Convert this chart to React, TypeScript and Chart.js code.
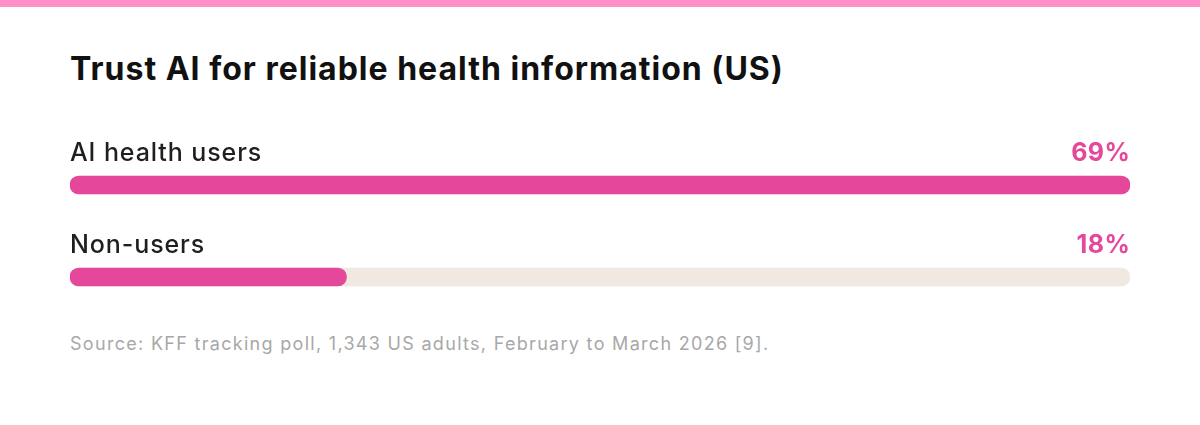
import React, { FC, useEffect, useRef } from "react";
import Chart from "chart.js/auto";

const categories = ["AI health users", "Non-users"];
const values = [69, 18];
const valueLabels = ["69%", "18%"];

const PINK = "#e5489a";
const TRACK = "#f0e8e1";
const FONT = "Inter, 'Noto Sans', sans-serif";

const App: FC = () => {
  const chartRef = useRef<HTMLCanvasElement>(null);

  useEffect(() => {
    document.body.style.margin = "0";
    if (!chartRef.current) return;
    const ctx = chartRef.current.getContext("2d");
    if (!ctx) return;
    const scaleMax = Math.max(...values);

    // draws the row label and the value above each bar
    const rowLabels = {
      id: "rowLabels",
      afterDatasetsDraw(chart: any) {
        const c = chart.ctx;
        const area = chart.chartArea;
        const meta = chart.getDatasetMeta(1);
        c.save();
        c.textBaseline = "middle";
        meta.data.forEach((bar: any, i: number) => {
          const y = bar.y - 32;
          c.fillStyle = "#1f1f1f";
          c.textAlign = "left";
          c.font = `500 25px ${FONT}`;
          c.letterSpacing = "0.9px";
          c.fillText(categories[i], area.left, y);
          c.fillStyle = PINK;
          c.textAlign = "right";
          c.font = `700 25px ${FONT}`;
          c.letterSpacing = "0.5px";
          c.fillText(valueLabels[i], area.right + 0.5, y);
        });
        c.restore();
      },
    };

    const chart = new Chart(ctx, {
      type: "bar",
      data: {
        labels: categories,
        datasets: [
          {
            data: categories.map(() => scaleMax),
            backgroundColor: TRACK,
            borderRadius: 9,
            borderSkipped: false,
            barThickness: 18,
            grouped: false,
            order: 2,
          },
          {
            data: values,
            backgroundColor: PINK,
            borderRadius: 9,
            borderSkipped: false,
            barThickness: 18,
            grouped: false,
            order: 1,
          },
        ],
      },
      options: {
        indexAxis: "y",
        animation: false,
        responsive: false,
        maintainAspectRatio: false,
        layout: { padding: 0 },
        plugins: { legend: { display: false }, tooltip: { enabled: false } },
        scales: {
          x: { display: false, min: 0, max: scaleMax },
          y: { display: false },
        },
      },
      plugins: [rowLabels],
    });

    return () => {
      chart.destroy();
    };
  }, []);

  return (
    <div style={{ position: "relative", width: 1200, height: 425, background: "#fff", fontFamily: FONT, overflow: "hidden" }}>
      <div style={{ position: "absolute", left: 0, top: 0, width: 1200, height: 7, background: "#ff8fc8" }} />
      <div style={{ position: "absolute", left: 70, top: 50, fontSize: 32, fontWeight: 700, letterSpacing: 1, color: "#111", lineHeight: "38px", whiteSpace: "nowrap" }}>
        Trust AI for reliable health information (US)
      </div>
      <canvas ref={chartRef} width={1060} height={184} style={{ position: "absolute", left: 70, top: 139, width: 1060, height: 184 }} />
      <div style={{ position: "absolute", left: 70, top: 331, fontSize: 18, letterSpacing: 1.3, color: "#a8a8a8", lineHeight: "26px", whiteSpace: "nowrap" }}>
        Source: KFF tracking poll, 1,343 US adults, February to March 2026 [9].
      </div>
    </div>
  );
};

export default App;
